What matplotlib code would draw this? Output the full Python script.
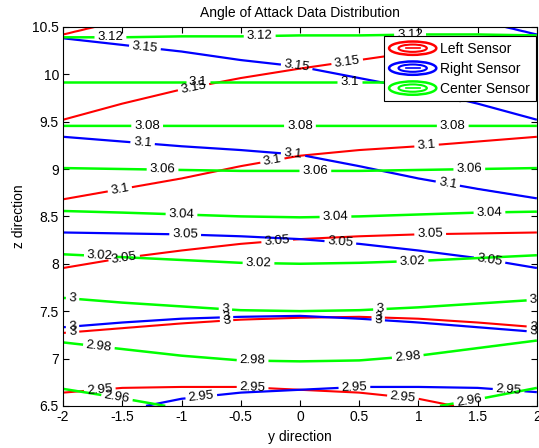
import numpy as np
import matplotlib
matplotlib.use('Agg')
import matplotlib.pyplot as plt
from matplotlib.lines import Line2D
from matplotlib.patches import Ellipse
from matplotlib.legend_handler import HandlerBase

plt.rcParams['font.family'] = ['Liberation Sans', 'DejaVu Sans']

# columns (y direction) where the contour heights were read
ys = [-2, -1.5, -1, -0.5, 0, 0.5, 1, 1.5, 2]

# left sensor: contour level -> z height at each column (first/last rows lie outside the view)
left_levels = [2.9, 2.95, 3.0, 3.05, 3.1, 3.15, 3.2, 3.25]
left_z = [
    [6.00, 6.05, 6.05, 6.00, 5.95, 5.85, 5.75, 5.60, 5.50],
    [6.64, 6.69, 6.70, 6.70, 6.67, 6.64, 6.575, 6.45, 6.30],
    [7.27, 7.32, 7.37, 7.41, 7.43, 7.44, 7.42, 7.38, 7.33],
    [7.955, 8.06, 8.14, 8.21, 8.26, 8.29, 8.31, 8.32, 8.33],
    [8.68, 8.79, 8.90, 9.03, 9.14, 9.20, 9.24, 9.29, 9.34],
    [9.52, 9.69, 9.84, 9.96, 10.06, 10.15, 10.24, 10.31, 10.38],
    [10.42, 10.57, 10.72, 10.84, 10.95, 11.05, 11.15, 11.23, 11.30],
    [11.00, 11.15, 11.30, 11.40, 11.50, 11.60, 11.70, 11.75, 11.80],
]

# right sensor
right_levels = [2.9, 2.95, 3.0, 3.05, 3.1, 3.15, 3.2, 3.25]
right_z = [
    [5.50, 5.60, 5.75, 5.85, 5.95, 6.00, 6.05, 6.05, 6.00],
    [6.30, 6.45, 6.575, 6.64, 6.67, 6.70, 6.70, 6.69, 6.645],
    [7.33, 7.38, 7.42, 7.44, 7.45, 7.42, 7.38, 7.33, 7.28],
    [8.33, 8.32, 8.31, 8.29, 8.26, 8.21, 8.14, 8.06, 7.955],
    [9.34, 9.29, 9.24, 9.20, 9.15, 9.03, 8.90, 8.79, 8.69],
    [10.38, 10.31, 10.24, 10.15, 10.08, 9.96, 9.84, 9.69, 9.52],
    [11.30, 11.23, 11.15, 11.05, 10.95, 10.84, 10.72, 10.57, 10.42],
    [11.80, 11.75, 11.70, 11.60, 11.50, 11.40, 11.30, 11.15, 11.00],
]

# center sensor
center_levels = [2.94, 2.96, 2.98, 3.0, 3.02, 3.04, 3.06, 3.08, 3.1, 3.12, 3.14]
center_z = [
    [6.10, 6.00, 5.90, 5.85, 5.80, 5.85, 5.90, 6.00, 6.10],
    [6.68, 6.58, 6.47, 6.40, 6.36, 6.40, 6.46, 6.57, 6.69],
    [7.17, 7.10, 7.03, 6.98, 6.97, 6.98, 7.03, 7.11, 7.19],
    [7.64, 7.59, 7.55, 7.51, 7.50, 7.51, 7.54, 7.58, 7.62],
    [8.10, 8.07, 8.04, 8.01, 8.00, 8.01, 8.03, 8.06, 8.09],
    [8.557, 8.54, 8.52, 8.50, 8.49, 8.50, 8.52, 8.54, 8.55],
    [9.01, 9.00, 8.99, 8.98, 8.98, 8.98, 8.99, 9.00, 9.01],
    [9.455, 9.455, 9.455, 9.455, 9.455, 9.455, 9.455, 9.455, 9.455],
    [9.92, 9.92, 9.92, 9.92, 9.92, 9.92, 9.92, 9.92, 9.92],
    [10.39, 10.39, 10.40, 10.40, 10.41, 10.41, 10.42, 10.42, 10.41],
    [10.86, 10.86, 10.86, 10.86, 10.86, 10.86, 10.86, 10.86, 10.86],
]

# label spots (y, z) as placed in the original
left_lab = [(-0.89, 9.81), (0.40, 10.12), (-1.52, 8.78), (-0.23, 9.07), (1.07, 9.23),
            (-1.48, 8.02), (-0.19, 8.21), (1.10, 8.28), (-1.92, 7.28), (-0.62, 7.40),
            (0.66, 7.42), (1.97, 7.33), (-1.69, 6.67), (-0.40, 6.69), (0.87, 6.60)]
right_lab = [(-1.31, 10.27), (-0.03, 10.05), (1.27, 9.76), (-1.33, 9.25), (-0.06, 9.12),
             (1.25, 8.86), (-0.97, 8.27), (0.34, 8.21), (1.60, 8.03), (-1.92, 7.33),
             (-0.62, 7.43), (0.66, 7.39), (1.97, 7.28), (-0.83, 6.56), (0.46, 6.69),
             (1.76, 6.64)]
center_lab = [(-1.60, 10.38), (-0.34, 10.41), (0.93, 10.39), (-0.86, 9.92), (0.42, 9.92),
              (-1.29, 9.455), (0.0, 9.455), (1.29, 9.455), (-1.16, 8.99), (0.13, 8.98),
              (1.43, 8.99), (-1.0, 8.52), (0.30, 8.49), (1.60, 8.54), (-1.69, 8.07),
              (-0.35, 8.0), (0.95, 8.03), (-1.92, 7.63), (-0.63, 7.51), (0.675, 7.51),
              (1.97, 7.62), (-1.70, 7.10), (-0.40, 6.97), (0.91, 7.02), (-1.55, 6.55),
              (1.43, 6.55)]


def build_field(zrows, levels):
    yy = np.linspace(-2, 2, 161)
    zz = np.linspace(6.5, 10.5, 401)
    rows = np.array([np.interp(yy, ys, r) for r in zrows])
    V = np.empty((zz.size, yy.size))
    for j in range(yy.size):
        V[:, j] = np.interp(zz, rows[:, j], levels)
    return yy, zz, V


class RingHandler(HandlerBase):
    # the odd concentric-ring icon matlab uses for contour legends
    def create_artists(self, legend, orig_handle, xdescent, ydescent, width, height, fontsize, trans):
        c = orig_handle.get_color()
        cx = width / 2 - xdescent
        cy = height / 2 - ydescent
        e1 = Ellipse((cx, cy), width, height * 1.0, fill=False, edgecolor=c, lw=1.8, transform=trans)
        e2 = Ellipse((cx, cy), width * 0.6, height * 0.55, fill=False, edgecolor=c, lw=1.5, transform=trans)
        ln = Line2D([cx - width * 0.15, cx + width * 0.15], [cy, cy], color=c, lw=1.2, transform=trans)
        return [e1, e2, ln]


fig = plt.figure(figsize=(5.39, 4.48), dpi=100)
ax = fig.add_axes([0.117, 0.094, 0.879, 0.846])

sets = [
    (left_z, left_levels, left_levels[1:-1], 'red', 1.5, left_lab),
    (right_z, right_levels, right_levels[1:-1], 'blue', 1.6, right_lab),
    (center_z, center_levels, center_levels[1:-1], '#00ff00', 1.8, center_lab),
]
for zrows, lv, show, col, lw, labs in sets:
    yy, zz, V = build_field(zrows, lv)
    cs = ax.contour(yy, zz, V, levels=show, colors=col, linewidths=lw)
    txt = ax.clabel(cs, manual=labs, inline=True, inline_spacing=3, fontsize=9.5, fmt='%g', colors='k')

ax.set_xlim(-2, 2)
ax.set_ylim(6.5, 10.5)
ax.set_xticks([-2, -1.5, -1, -0.5, 0, 0.5, 1, 1.5, 2])
ax.set_xticklabels(['-2', '-1.5', '-1', '-0.5', '0', '0.5', '1', '1.5', '2'])
ax.set_yticks([6.5, 7, 7.5, 8, 8.5, 9, 9.5, 10, 10.5])
ax.set_yticklabels(['6.5', '7', '7.5', '8', '8.5', '9', '9.5', '10', '10.5'])
ax.tick_params(direction='in', top=True, right=True, length=4, width=0.8, labelsize=10, pad=3)
for s in ax.spines.values():
    s.set_linewidth(0.8)

ax.set_title('Angle of Attack Data Distribution', fontsize=10, pad=7)
ax.set_xlabel('y direction', fontsize=10, labelpad=4)
ax.set_ylabel('z direction', fontsize=10, labelpad=4)

handles = [Line2D([], [], color='red', label='Left Sensor'),
           Line2D([], [], color='blue', label='Right Sensor'),
           Line2D([], [], color='#00ff00', label='Center Sensor')]
leg = ax.legend(handles=handles, handler_map={Line2D: RingHandler()},
                loc='upper right', bbox_to_anchor=(0.998, 0.976), borderaxespad=0,
                fontsize=10, handlelength=3.4, handleheight=1.1, handletextpad=0.3,
                labelspacing=0.4, borderpad=0.4, fancybox=False, framealpha=1,
                edgecolor='k')
leg.get_frame().set_linewidth(0.8)

fig.savefig('out.png', dpi=100)
